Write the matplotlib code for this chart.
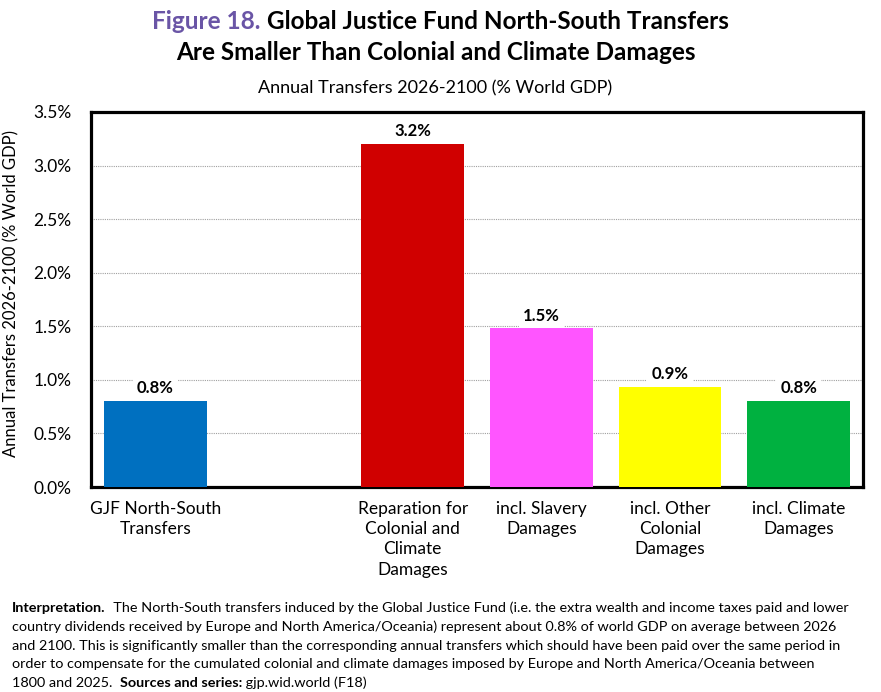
import numpy as np
import matplotlib as mpl
import matplotlib.pyplot as plt
from matplotlib.ticker import FuncFormatter, MultipleLocator

OUT_FIG = "out.png"

mpl.rcParams["font.family"] = ["Lato", "DejaVu Sans"]

CATEGORIES = [
    "GJF North-South\nTransfers",
    "Reparation for\nColonial and\nClimate\nDamages",
    "incl. Slavery\nDamages",
    "incl. Other\nColonial\nDamages",
    "incl. Climate\nDamages",
]
VALUES = [0.80, 3.20, 1.48, 0.935, 0.80]
COLORS = ["#0070C0", "#D00000", "#FF55FF", "#FFFF00", "#00B140"]

TITLE_PURPLE = "#6A55A6"

INTERP_LINES = [
    [("Interpretation.", "bold"), ("  The North-South transfers induced by the Global Justice Fund (i.e. the extra wealth and income taxes paid and lower", "normal")],
    [("country dividends received by Europe and North America/Oceania) represent about 0.8% of world GDP on average between 2026", "normal")],
    [("and 2100. This is significantly smaller than the corresponding annual transfers which should have been paid over the same period in", "normal")],
    [("order to compensate for the cumulated colonial and climate damages imposed by Europe and North America/Oceania between", "normal")],
    [("1800 and 2025.  ", "normal"), ("Sources and series:", "bold"), (" gjp.wid.world (F18)", "normal")],
]


def place_runs(fig, renderer, runs, x0, y, size, colors=None, center=False):
    # draw text pieces one after another on a common baseline
    texts = []
    x = x0
    fw = fig.get_figwidth() * fig.dpi
    for i, (s, weight) in enumerate(runs):
        c = colors[i] if colors else "black"
        t = fig.text(x, y, s, fontsize=size, fontweight=weight, color=c,
                     ha="left", va="baseline")
        w = t.get_window_extent(renderer).width / fw
        texts.append((t, w))
        x += w
    if center:
        total = x - x0
        shift = -total / 2
        for t, _ in texts:
            px, py = t.get_position()
            t.set_position((px + shift, py))
    return texts


def main():
    fig = plt.figure(figsize=(8.81, 6.92), dpi=100)
    ax = fig.add_axes([0.1033, 0.2962, 0.9796 - 0.1033, 0.8382 - 0.2962])

    x = np.array([0, 2, 3, 4, 5])

    ax.bar(x, VALUES, width=0.8, color=COLORS, zorder=3)

    for xi, v in zip(x, VALUES):
        ax.annotate(f"{v:.1f}%", (xi, v), xytext=(0, 3.5), textcoords="offset points",
                    ha="center", va="bottom", fontsize=12, fontweight="bold",
                    bbox=dict(boxstyle="square,pad=0.25", fc="white", ec="none"),
                    zorder=4)

    ax.set_xlim(-0.5, 5.5)
    ax.set_ylim(0, 3.5)
    ax.yaxis.set_major_locator(MultipleLocator(0.5))
    ax.yaxis.set_major_formatter(FuncFormatter(lambda v, p: f"{v:.1f}%"))

    ax.set_xticks(x)
    ax.set_xticklabels(CATEGORIES, fontsize=12.5, linespacing=1.33, va="top")
    ax.tick_params(axis="x", length=0, pad=10)
    ax.tick_params(axis="y", length=0, pad=14, labelsize=12.5)

    ax.grid(axis="y", linestyle=(0, (1, 1)), color="#a0a0a0", linewidth=0.8, zorder=0)
    ax.set_axisbelow(True)

    for side in ["top", "right", "left", "bottom"]:
        ax.spines[side].set_linewidth(2.3)
        ax.spines[side].set_color("black")

    ax.set_ylabel("Annual Transfers 2026-2100 (% World GDP)", fontsize=12)
    ax.yaxis.set_label_coords(-0.093, 0.515)

    fig.canvas.draw()
    renderer = fig.canvas.get_renderer()

    place_runs(fig, renderer,
               [("Figure 18. ", "bold"), ("Global Justice Fund North-South Transfers", "bold")],
               0.5, 1 - 29 / 692, 17.5, colors=[TITLE_PURPLE, "black"], center=True)
    fig.text(0.495, 1 - 60 / 692, "Are Smaller Than Colonial and Climate Damages",
             fontsize=17.5, fontweight="bold", ha="center", va="baseline")
    fig.text(0.494, 1 - 93 / 692, "Annual Transfers 2026-2100 (% World GDP)",
             fontsize=13, ha="center", va="baseline")

    y = 1 - 612 / 692
    for line in INTERP_LINES:
        place_runs(fig, renderer, line, 12 / 881, y, 10.4)
        y -= 18.8 / 692

    fig.savefig(OUT_FIG, dpi=100)
    plt.close(fig)


if __name__ == "__main__":
    main()
